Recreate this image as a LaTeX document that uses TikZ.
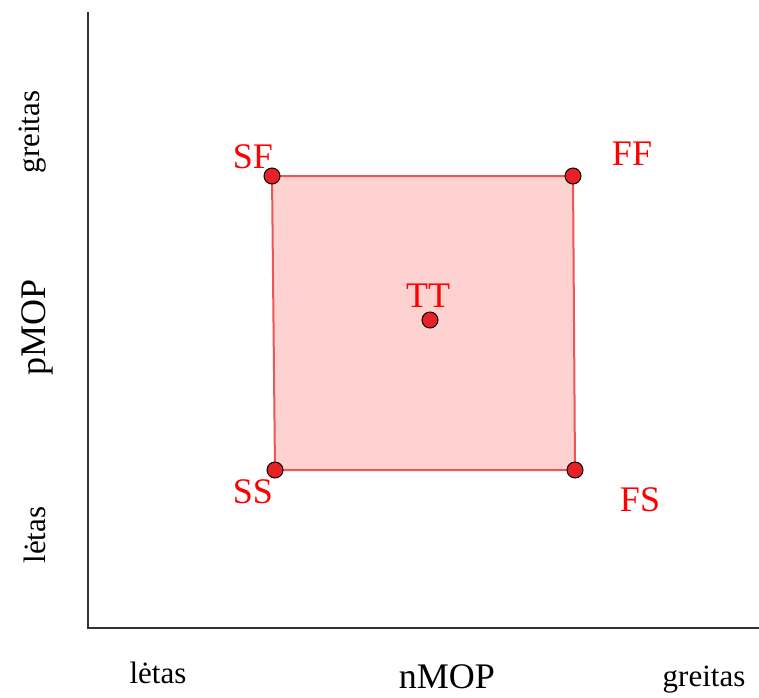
\documentclass[tikz,border=0pt]{standalone}
\usepackage{fontspec}
\setmainfont{Liberation Serif}
\usetikzlibrary{positioning}
\definecolor{ptred}{RGB}{232,32,40}
\definecolor{sqfill}{RGB}{255,210,210}
\definecolor{sqline}{RGB}{240,85,85}
\definecolor{axgray}{RGB}{50,50,50}

\begin{document}
\begin{tikzpicture}[x=1pt, y=-1pt,
    ax/.style={draw=axgray, line width=2pt},
    sq/.style={draw=sqline, fill=sqfill, line width=2pt},
    pt/.style={circle, fill=ptred, draw=black, line width=1pt, inner sep=0pt, minimum size=16pt},
    plbl/.style={text=red, font=\fontsize{36}{40}\selectfont},
    albl/.style={font=\fontsize{36}{40}\selectfont},
    elbl/.style={font=\fontsize{31}{34}\selectfont}]
    \useasboundingbox (0,0) rectangle (759,697);
    % axes
    \coordinate (top) at (88,12);
    \coordinate (orig) at (88,628);
    \coordinate (right) at (759,628);
    \draw[ax] (top) -- (orig) -- (right);
    % corners of the region
    \coordinate (SF) at (272,176);
    \coordinate (FF) at (573,176);
    \coordinate (FS) at (575,470);
    \coordinate (SS) at (275,470);
    \coordinate (TT) at (430,320);
    \draw[sq] (SF) -- (FF) -- (FS) -- (SS) -- cycle;
    \foreach \p in {SF,FF,FS,SS,TT}
      \node[pt] (dot\p) at (\p) {};
    % point labels
    \node[plbl] (lblSF) at (253,157) {SF};
    \node[plbl] (lblFF) at (632,154) {FF};
    \node[plbl] (lblSS) at (253,492) {SS};
    \node[plbl] (lblFS) at (640,500) {FS};
    \node[plbl] (lblTT) at (428,296) {TT};
    % axis labels
    \node[elbl, rotate=90] (yfast) at (33,132) {greitas};
    \node[albl, rotate=90] (yname) at (37,327) {pMOP};
    \node[elbl, rotate=90] (yslow) at (35,535) {lėtas};
    \node[elbl] (xslow) at (158,673) {lėtas};
    \node[albl] (xname) at (447,677) {nMOP};
    \node[elbl] (xfast) at (704,680) {greitas};
\end{tikzpicture}
\end{document}
